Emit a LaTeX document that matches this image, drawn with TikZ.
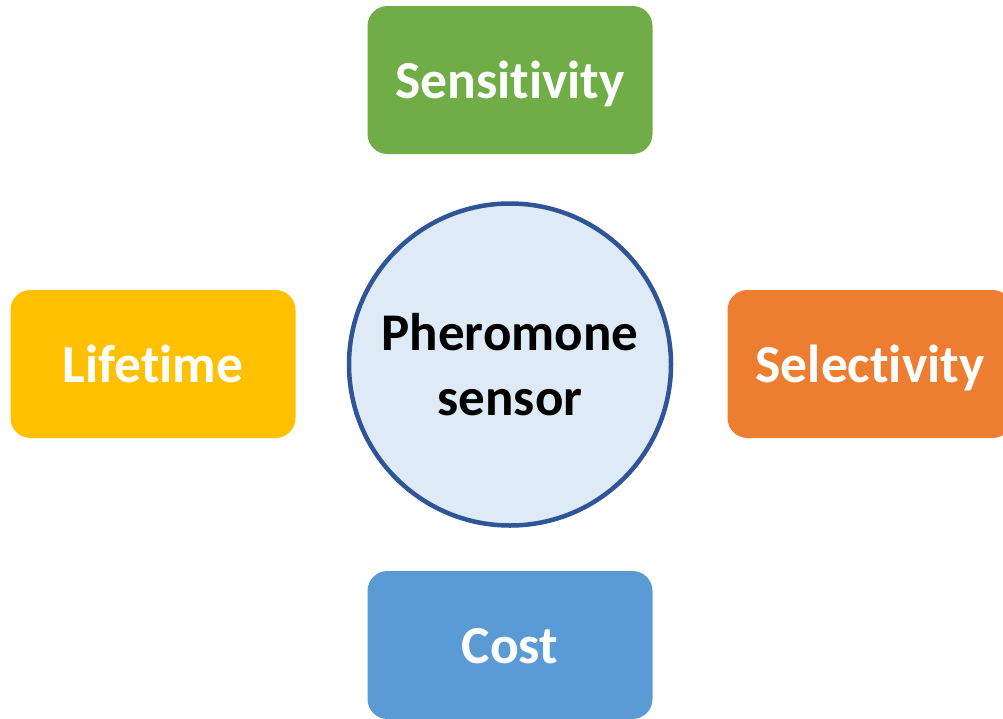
\documentclass[tikz,border=0pt]{standalone}
\usepackage{fontspec}
\setmainfont[Ligatures=NoCommon]{Carlito}
\definecolor{cgreen}{HTML}{70AD47}
\definecolor{corange}{HTML}{ED7D31}
\definecolor{cyellow}{HTML}{FFC000}
\definecolor{cblue}{HTML}{5B9BD5}
\definecolor{cfill}{HTML}{DEEBF7}
\definecolor{cline}{HTML}{2F5597}
\tikzset{
  box/.style={rounded corners=20pt, minimum width=285pt, minimum height=148pt,
    inner sep=0pt, text=white, text height=36pt, text depth=0pt,
    font=\fontsize{53.5}{64}\selectfont\bfseries},
  hub/.style={circle, draw=cline, line width=4.5pt, fill=cfill, minimum size=322pt,
    inner sep=0pt, align=center, font=\fontsize{53}{65}\selectfont\bfseries}
}
\begin{document}
\begin{tikzpicture}[x=1pt,y=-1pt]
\useasboundingbox (0,0) rectangle (1003,718);
\clip (0,0) rectangle (1003,718);
\fill[white] (0,0) rectangle (1003,718);
\node[box, fill=cgreen] (sens) at (510,80) {Sensitivity};
\node[box, fill=cyellow] (life) at (153,364) {Lifetime};
\node[box, fill=corange] (sel) at (870,364) {};
\node[box, fill=cblue] (cost) at (510,645) {Cost};
\node[box, fill=none, minimum width=0pt] (seltext) at (870,364) {Selectivity};
\node[hub] (hubnode) at (510,364.5) {Pheromone\\sensor};
\end{tikzpicture}
\end{document}
